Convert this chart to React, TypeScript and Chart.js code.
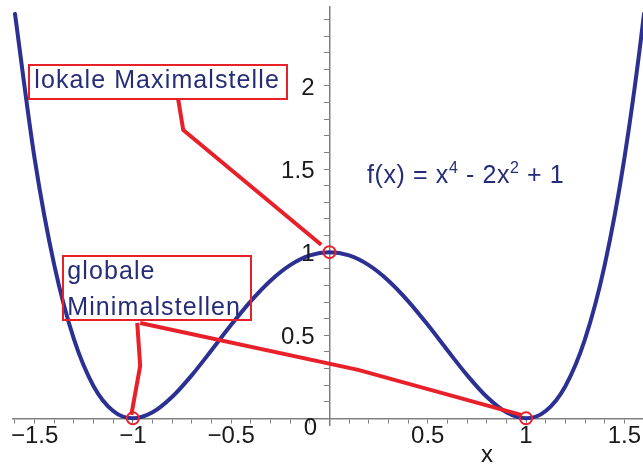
import React, { useEffect, useRef } from 'react';
import { Chart, registerables } from 'chart.js';

Chart.register(...registerables);

// Curve f(x) = x^4 - 2x^2 + 1
const curveX = [-1.6, -1.5, -1.4, -1.3, -1.2, -1.1, -1, -0.9, -0.8, -0.7, -0.6, -0.5, -0.4, -0.3, -0.2, -0.1, 0,
  0.1, 0.2, 0.3, 0.4, 0.5, 0.6, 0.7, 0.8, 0.9, 1, 1.1, 1.2, 1.3, 1.4, 1.5, 1.6, 1.7];
const curveY = [2.4336, 1.5625, 0.9216, 0.4761, 0.1936, 0.0441, 0, 0.0361, 0.1296, 0.2601, 0.4096, 0.5625, 0.7056, 0.8281, 0.9216, 0.9801, 1,
  0.9801, 0.9216, 0.8281, 0.7056, 0.5625, 0.4096, 0.2601, 0.1296, 0.0361, 0, 0.0441, 0.1936, 0.4761, 0.9216, 1.5625, 2.4336, 3.5721];

// Marked extrema
const extremaX = [-1, 0, 1];
const extremaY = [0, 1, 0];

// Leader lines (data units)
const leaderMaxX = [-0.77, -0.744, -0.042];
const leaderMaxY = [1.922, 1.735, 1.044];
const leaderMinLeftX = [-0.978, -0.963, -1.008];
const leaderMinLeftY = [0.574, 0.316, 0.021];
const leaderMinRightX = [-0.963, 0.146, 0.975];
const leaderMinRightY = [0.574, 0.292, 0.021];

// Tick labels
const xMajorTicks = [-1.5, -1, -0.5, 0.5, 1, 1.5];
const xTickLabels = ['\u22121.5', '\u22121', '\u22120.5', '0.5', '1', '1.5'];
const yMajorTicks = [0.5, 1, 1.5, 2];
const yTickLabels = ['0.5', '1', '1.5', '2'];
const originLabel = '0';
const xTitle = 'x';

// Annotation texts
const maxLabel = 'lokale Maximalstelle';
const minLabelLines = ['globale', 'Minimalstellen'];
const formulaParts = [
  { t: 'f(x) = x', sup: false },
  { t: '4', sup: true },
  { t: ' - 2x', sup: false },
  { t: '2', sup: true },
  { t: ' + 1', sup: false },
];

const NAVY = '#2c3092';
const TEXT_NAVY = '#262d78';
const RED = '#e8202a';
const AXIS = '#808080';
const LABEL = '#1a1a1a';
const FONT = "'Liberation Sans', Arial, Helvetica, sans-serif";

function toPts(xs: number[], ys: number[]) {
  return xs.map((x, i) => ({ x, y: ys[i] }));
}

function labelFor(value: number, ticks: number[], labels: string[]) {
  for (let i = 0; i < ticks.length; i++) {
    if (Math.abs(ticks[i] - value) < 1e-6) return labels[i];
  }
  return '';
}

function zeroPadding(scale: any) {
  scale.paddingTop = 0;
  scale.paddingBottom = 0;
  scale.paddingLeft = 0;
  scale.paddingRight = 0;
}

const annotationPlugin = {
  id: 'annotations',
  afterDatasetsDraw(chart: any) {
    const ctx = chart.ctx as CanvasRenderingContext2D;
    const xs = chart.scales.x;
    const ys = chart.scales.y;
    const px = (v: number) => xs.getPixelForValue(v);
    const py = (v: number) => ys.getPixelForValue(v);
    ctx.save();
    // boxes
    ctx.strokeStyle = RED;
    ctx.lineWidth = 2;
    const boxes = [
      { l: -1.527, r: -0.215, t: 2.126, b: 1.922 },
      { l: -1.356, r: -0.4, t: 0.979, b: 0.591 },
    ];
    boxes.forEach((bx) => {
      const x0 = Math.round(px(bx.l));
      const x1 = Math.round(px(bx.r));
      const y0 = Math.round(py(bx.t));
      const y1 = Math.round(py(bx.b));
      ctx.strokeRect(x0, y0, x1 - x0, y1 - y0);
    });
    // texts
    ctx.fillStyle = TEXT_NAVY;
    ctx.textAlign = 'left';
    ctx.textBaseline = 'alphabetic';
    ctx.font = `25px ${FONT}`;
    (ctx as any).letterSpacing = '1.1px';
    ctx.fillText(maxLabel, px(-1.502), py(1.988));
    ctx.fillText(minLabelLines[0], px(-1.334), py(0.839));
    ctx.fillText(minLabelLines[1], px(-1.334), py(0.623));
    // formula
    (ctx as any).letterSpacing = '0.6px';
    let cx = px(0.191);
    const base = py(1.416);
    formulaParts.forEach((p) => {
      ctx.font = p.sup ? `16px ${FONT}` : `25px ${FONT}`;
      const yy = p.sup ? base - 10 : base;
      ctx.fillText(p.t, cx, yy);
      cx += ctx.measureText(p.t).width;
    });
    (ctx as any).letterSpacing = '0px';
    ctx.restore();
  },
  afterDraw(chart: any) {
    const ctx = chart.ctx as CanvasRenderingContext2D;
    const xs = chart.scales.x;
    const ys = chart.scales.y;
    ctx.save();
    ctx.fillStyle = LABEL;
    ctx.font = `24px ${FONT}`;
    // y tick labels, left of the y axis
    ctx.textAlign = 'right';
    ctx.textBaseline = 'middle';
    const axisX = xs.getPixelForValue(0);
    yMajorTicks.forEach((v, i) => {
      ctx.fillText(yTickLabels[i], axisX - 15, ys.getPixelForValue(v) + 2);
    });
    ctx.textAlign = 'center';
    ctx.fillText(originLabel, xs.getPixelForValue(-0.097), ys.getPixelForValue(-0.058));
    ctx.fillText(xTitle, xs.getPixelForValue(0.802), ys.getPixelForValue(-0.22));
    ctx.restore();
  },
};

export default function App() {
  const ref = useRef<HTMLCanvasElement | null>(null);
  useEffect(() => {
    if (!ref.current) return;
    const chart = new Chart(ref.current, {
      type: 'scatter',
      data: {
        datasets: [
          {
            data: toPts(curveX, curveY),
            showLine: true,
            borderColor: NAVY,
            borderWidth: 4,
            pointRadius: 0,
            cubicInterpolationMode: 'monotone',
            borderCapStyle: 'round',
            order: 3,
          } as any,
          {
            data: toPts(leaderMaxX, leaderMaxY),
            showLine: true,
            borderColor: RED,
            borderWidth: 4,
            pointRadius: 0,
            tension: 0,
            order: 2,
          } as any,
          {
            data: toPts(leaderMinLeftX, leaderMinLeftY),
            showLine: true,
            borderColor: RED,
            borderWidth: 4,
            pointRadius: 0,
            tension: 0,
            order: 2,
          } as any,
          {
            data: toPts(leaderMinRightX, leaderMinRightY),
            showLine: true,
            borderColor: RED,
            borderWidth: 4,
            pointRadius: 0,
            tension: 0,
            order: 2,
          } as any,
          {
            data: toPts(extremaX, extremaY),
            showLine: false,
            pointRadius: 6,
            pointBorderWidth: 2,
            pointBorderColor: RED,
            pointBackgroundColor: 'rgba(0,0,0,0)',
            clip: false,
            order: 1,
          } as any,
        ],
      },
      options: {
        animation: false,
        responsive: false,
        devicePixelRatio: 1,
        events: [],
        layout: { autoPadding: false, padding: { left: 13, right: 0, top: 7, bottom: 40 } },
        plugins: { legend: { display: false }, tooltip: { enabled: false }, title: { display: false } },
        scales: {
          x: {
            type: 'linear',
            min: -1.61,
            max: 1.595,
            position: { y: 0 } as any,
            afterFit: zeroPadding,
            border: { display: true, color: AXIS, width: 1.5 },
            grid: { display: true, drawOnChartArea: false, drawTicks: true, tickLength: 4, tickColor: AXIS, tickWidth: 1 },
            ticks: {
              stepSize: 0.1,
              autoSkip: false,
              maxTicksLimit: 1000,
              includeBounds: false,
              maxRotation: 0,
              minRotation: 0,
              padding: 2,
              color: LABEL,
              font: { family: FONT, size: 24, lineHeight: 1 },
              callback: (v: any) => labelFor(Number(v), xMajorTicks, xTickLabels),
            },
          },
          y: {
            type: 'linear',
            min: -0.04,
            max: 2.475,
            position: { x: 0 } as any,
            afterFit: zeroPadding,
            border: { display: true, color: AXIS, width: 1.5 },
            grid: { display: true, drawOnChartArea: false, drawTicks: true, tickLength: 5, tickColor: AXIS, tickWidth: 1 },
            ticks: {
              display: false,
              stepSize: 0.1,
              autoSkip: false,
              maxTicksLimit: 1000,
              includeBounds: false,
            },
          },
        },
      } as any,
      plugins: [annotationPlugin],
    });
    return () => chart.destroy();
  }, []);
  return (
    <div style={{ position: 'absolute', left: 0, top: 0, width: 643, height: 465, background: '#fff' }}>
      <canvas ref={ref} width={643} height={465} style={{ display: 'block' }} />
    </div>
  );
}
